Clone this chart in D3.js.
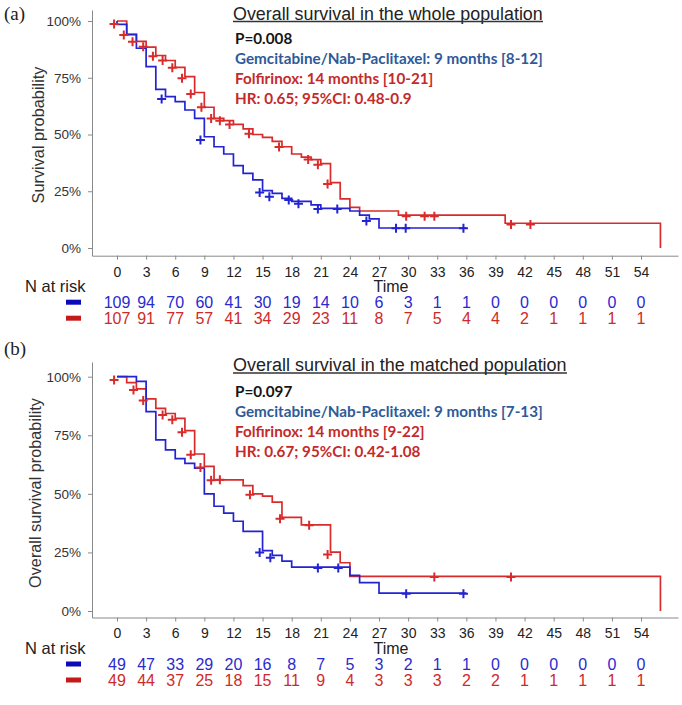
<!DOCTYPE html>
<html><head><meta charset="utf-8">
<script src="https://cdn.jsdelivr.net/npm/d3@7"></script>
<style>body{margin:0;background:#fff}svg{display:block}</style>
</head><body>
<svg id="c" width="682" height="705"></svg>
<script>
// ---------- data ----------
const timeTicks = [0,3,6,9,12,15,18,21,24,27,30,33,36,39,42,45,48,51,54];
const yTickValues = [0, 0.25, 0.5, 0.75, 1];
const yTickLabels = ["0%","25%","50%","75%","100%"];

// Panel (a) whole population
const aBlueTime = [0,0,1,2,3,4,5,6,7,8,9,10,11,12,13,14,15,16,17,18,20,21,24,25,26,27,36];
const aBlueSurv = [1,.985,.941,.88,.799,.699,.667,.645,.608,.571,.49,.446,.414,.363,.329,.30,.253,.241,.219,.205,.19,.175,.163,.145,.128,.088,.088];
const aRedTime = [0,1,2,3,4,5,6,7,8,9,10,11,12,13,14,15,16,17,18,19,20,21,22,23,24,25,29,40,56];
const aRedSurv = [1,.94,.91,.885,.848,.826,.796,.755,.685,.62,.571,.561,.545,.525,.50,.487,.47,.446,.414,.40,.389,.372,.288,.216,.179,.163,.145,.109,0];
const aBlueCensT = [4.6,8.6,14.7,15.7,17.7,18.7,20.7,22.7,25.7,28.75,29.75,35.7];
const aBlueCensS = [.656,.476,.245,.226,.211,.195,.172,.172,.119,.087,.087,.087];
const aRedCensT = [-0.3,0.7,1.6,2.7,3.7,4.7,5.7,6.7,7.6,8.7,9.7,10.6,11.6,13.6,16.7,19.7,20.7,21.7,29.8,31.7,32.7,40.6,42.6];
const aRedCensS = [.987,.938,.909,.887,.845,.826,.794,.748,.678,.62,.571,.561,.544,.503,.445,.39,.367,.282,.14,.14,.14,.104,.104];
const aRiskBlue = [109,94,70,60,41,30,19,14,10,6,3,1,1,0,0,0,0,0,0];
const aRiskRed  = [107,91,77,57,41,34,29,23,11,8,7,5,4,4,2,1,1,1,1];
const aTexts = ["Overall survival in the whole population","P=0.008",
  "Gemcitabine/Nab-Paclitaxel: 9 months [8-12]","Folfirinox: 14 months [10-21]","HR: 0.65; 95%CI: 0.48-0.9"];

// Panel (b) matched population
const bBlueTime = [0,2,3,4,5,6,7,8,9,10,11,12,13,15,16,17,18,24,25,27,36];
const bBlueSurv = [1,.98,.851,.73,.688,.65,.63,.61,.50,.447,.418,.383,.34,.258,.237,.213,.187,.152,.121,.076,.076];
const bRedTime = [0,1,2,3,4,5,6,7,8,9,10,13,14,15,16,17,19,22,23,24,56];
const bRedSurv = [1,.975,.948,.905,.865,.843,.822,.77,.67,.617,.56,.535,.50,.49,.465,.40,.368,.251,.206,.148,0];
const bBlueCensT = [14.7,15.8,20.7,22.8,29.8,35.7];
const bBlueCensS = [.25,.227,.183,.183,.074,.074];
const bRedCensT = [-0.3,1.7,2.7,4.7,5.7,6.7,7.6,8.6,9.7,10.6,13.7,16.8,19.8,21.7,32.7,40.6];
const bRedCensS = [.986,.943,.898,.837,.816,.763,.667,.612,.558,.56,.496,.394,.366,.241,.145,.145];
const bRiskBlue = [49,47,33,29,20,16,8,7,5,3,2,1,1,0,0,0,0,0,0];
const bRiskRed  = [49,44,37,25,18,15,11,9,4,3,3,3,2,2,1,1,1,1,1];
const bTexts = ["Overall survival in the matched population","P=0.097",
  "Gemcitabine/Nab-Paclitaxel: 9 months [7-13]","Folfirinox: 14 months [9-22]","HR: 0.67; 95%CI: 0.42-1.08"];

// ---------- drawing ----------
const C = {blue:"#2323d2", red:"#d92b2b", riskBlue:"#2a2ad0", riskRed:"#cf2a2a",
  legBlue:"#0a0ab8", legRed:"#c41a1a", txtBlue:"#2e5a98", txtRed:"#c42a2a", axis:"#8a8a8a"};
const svg = d3.select("#c");
svg.append("rect").attr("width",682).attr("height",705).attr("fill","#fff");

function fit(sel, w){
  const l = sel.node().getComputedTextLength();
  const fs = parseFloat(sel.attr("font-size"));
  sel.attr("font-size", fs*w/l);
  return fs*w/l;
}
const zip = (a,b)=>a.map((v,i)=>[v,b[i]]);

function panel(o){
  const g = svg.append("g");
  const x = d3.scaleLinear().domain([-2.576, 57.81]).range([92, 678]);
  const y = d3.scaleLinear().domain([0,1]).range([o.y0, o.y1]);
  const yAx = y.copy().domain([y.invert(o.axisY), y.invert(o.axisTop)]).range([o.axisY, o.axisTop]);

  // y axis
  const ga = g.append("g").attr("transform","translate(92,0)")
    .call(d3.axisLeft(yAx).tickValues(yTickValues).tickFormat((d,i)=>yTickLabels[i]).tickSize(4).tickPadding(7).tickSizeOuter(0));
  ga.select(".domain").attr("stroke",C.axis);
  ga.selectAll(".tick line").attr("stroke",C.axis);
  ga.selectAll("text").attr("font-family","Liberation Sans, Arial, sans-serif").attr("font-size",13.5).attr("fill","#333");

  // x axis
  const gx = g.append("g").attr("transform",`translate(0,${o.axisY})`)
    .call(d3.axisBottom(x).tickValues(timeTicks).tickFormat(d=>String(d)).tickSize(4).tickPadding(7).tickSizeOuter(0));
  gx.select(".domain").attr("stroke",C.axis);
  gx.selectAll(".tick line").attr("stroke",C.axis);
  gx.selectAll("text").attr("font-family","Liberation Sans, Arial, sans-serif").attr("font-size",14).attr("fill","#222");

  // y label
  const yl = g.append("text").attr("transform",`translate(${o.ylabX},${o.ylabY}) rotate(-90)`)
    .attr("text-anchor","middle").attr("dominant-baseline","central")
    .attr("font-family","Liberation Sans, Arial, sans-serif").attr("font-size",16).attr("fill","#333")
    .text(o.ylab);
  fit(yl, o.ylabW);

  // curves
  const line = d3.line().x(d=>x(d[0])).y(d=>y(d[1])).curve(d3.curveStepAfter);
  [[o.redT,o.redS,C.red],[o.blueT,o.blueS,C.blue]].forEach(([t,s,c])=>{
    g.append("path").datum(zip(t,s)).attr("d",line).attr("fill","none")
      .attr("stroke",c).attr("stroke-width",1.7);
  });
  [[o.redCT,o.redCS,C.red],[o.blueCT,o.blueCS,C.blue]].forEach(([t,s,c])=>{
    g.selectAll(null).data(zip(t,s)).enter().append("path")
      .attr("d","M-4.5,0H4.5M0,-4.5V4.5")
      .attr("transform",d=>`translate(${x(d[0])},${y(d[1])})`)
      .attr("stroke",c).attr("stroke-width",2).attr("fill","none");
  });

  // title + text block
  const tt = g.append("text").attr("x",o.titleX).attr("y",o.titleY).attr("dominant-baseline","central")
    .attr("font-family","Liberation Sans, Arial, sans-serif").attr("font-size",17).attr("fill","#222").text(o.texts[0]);
  fit(tt, o.titleW);
  g.append("line").attr("x1",o.titleX).attr("x2",o.titleX+o.titleW).attr("y1",o.titleY+8).attr("y2",o.titleY+8)
    .attr("stroke","#333").attr("stroke-width",1.3);
  const cols = ["#151515", C.txtBlue, C.txtRed, C.txtRed];
  const lines = o.texts.slice(1).map((s,i)=> g.append("text").attr("x",235).attr("y",o.textY + i*20)
    .attr("dominant-baseline","central").attr("font-family","Lato, 'Open Sans', sans-serif")
    .attr("font-weight","bold").attr("font-size",15).attr("fill",cols[i]).text(s));
  const fs = fit(lines[1], 308);
  lines.forEach(l=>l.attr("font-size",fs));

  // Time, N at risk
  g.append("text").attr("x",391).attr("y",o.axisY+31).attr("text-anchor","middle").attr("dominant-baseline","central")
    .attr("font-family","Liberation Sans, Arial, sans-serif").attr("font-size",16).attr("fill","#222").text("Time");
  g.append("text").attr("x",25).attr("y",o.axisY+30.5).attr("dominant-baseline","central")
    .attr("font-family","Liberation Sans, Arial, sans-serif").attr("font-size",16.5).attr("fill","#222").text("N at risk");
  [[o.riskB, C.riskBlue, C.legBlue, o.axisY+46.5],[o.riskR, C.riskRed, C.legRed, o.axisY+62.5]].forEach(([arr,c,lc,yy])=>{
    g.append("rect").attr("x",66).attr("y",yy-2.5).attr("width",15).attr("height",5).attr("fill",lc);
    g.selectAll(null).data(arr.map((v,i)=>[timeTicks[i],v])).enter().append("text")
      .attr("x",d=>x(d[0])).attr("y",yy).attr("text-anchor","middle").attr("dominant-baseline","central")
      .attr("font-family","Liberation Sans, Arial, sans-serif").attr("font-size",16).attr("fill",c).text(d=>d[1]);
  });
  g.append("text").attr("x",4).attr("y",o.tagY).attr("dominant-baseline","central")
    .attr("font-family","Liberation Serif, 'DejaVu Serif', serif").attr("font-size",19).attr("fill","#222").text(o.tag);
}

panel({y0:248, y1:21, axisY:255.7, axisTop:10, ylab:"Survival probability", ylabX:38, ylabY:135, ylabW:137,
  blueT:aBlueTime, blueS:aBlueSurv, redT:aRedTime, redS:aRedSurv,
  blueCT:aBlueCensT, blueCS:aBlueCensS, redCT:aRedCensT, redCS:aRedCensS,
  texts:aTexts, titleX:233, titleY:13.5, titleW:310, textY:38.3, riskB:aRiskBlue, riskR:aRiskRed, tag:"(a)", tagY:13});
panel({y0:611, y1:376.7, axisY:617.5, axisTop:362, ylab:"Overall survival probability", ylabX:35, ylabY:493, ylabW:190,
  blueT:bBlueTime, blueS:bBlueSurv, redT:bRedTime, redS:bRedSurv,
  blueCT:bBlueCensT, blueCS:bBlueCensS, redCT:bRedCensT, redCS:bRedCensS,
  texts:bTexts, titleX:233, titleY:365, titleW:334, textY:390.5, riskB:bRiskBlue, riskR:bRiskRed, tag:"(b)", tagY:348.5});
</script>
</body></html>
